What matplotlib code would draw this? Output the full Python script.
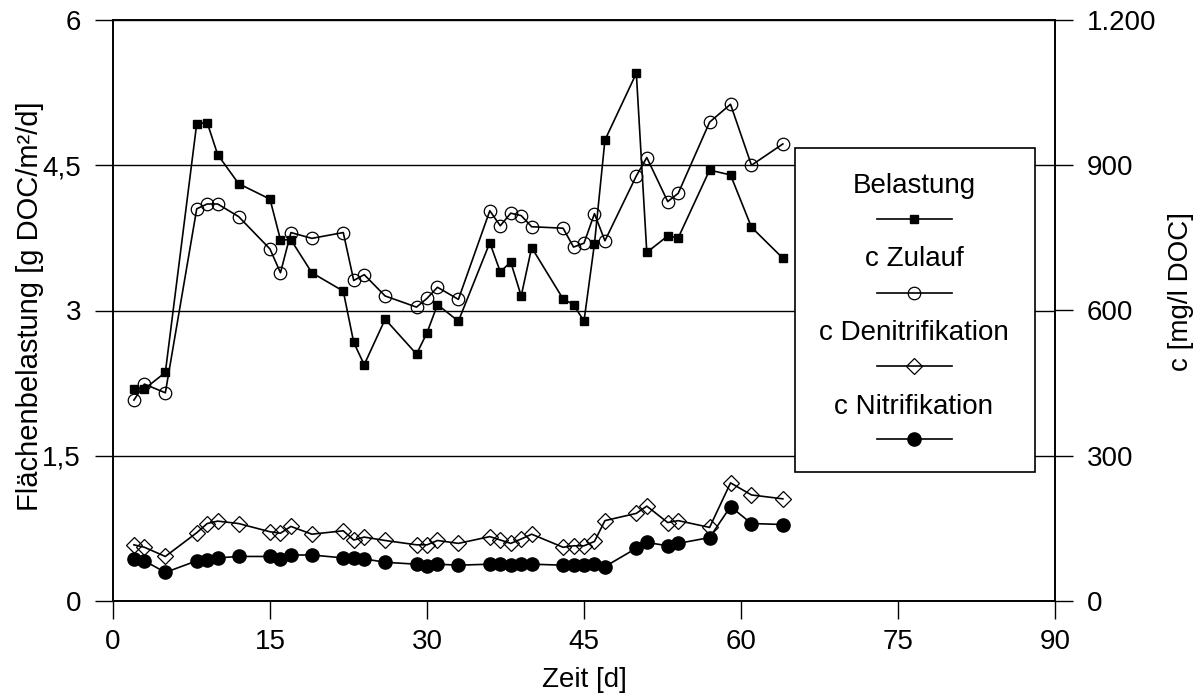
import matplotlib
matplotlib.use("Agg")
import matplotlib.pyplot as plt
from matplotlib.lines import Line2D
from matplotlib.patches import Rectangle
from matplotlib.ticker import FixedLocator, FuncFormatter

plt.rcParams['font.family'] = ['Liberation Sans', 'DejaVu Sans']
plt.rcParams['font.size'] = 20

# =========================
# Messwerte
# =========================
zeit = [2, 3, 5, 8, 9, 10, 12, 15, 16, 17, 19, 22, 23, 24, 26, 29, 30, 31, 33,
        36, 37, 38, 39, 40, 43, 44, 45, 46, 47, 50, 51, 53, 54, 57, 59, 61, 64]

# Flaechenbelastung [g DOC/m2/d]
belastung = [2.19, 2.19, 2.36, 4.93, 4.94, 4.61, 4.31, 4.15, 3.73, 3.73, 3.39,
             3.20, 2.67, 2.44, 2.91, 2.55, 2.77, 3.06, 2.89, 3.70, 3.40, 3.50,
             3.15, 3.65, 3.12, 3.06, 2.89, 3.69, 4.76, 5.45, 3.60, 3.77, 3.75,
             4.45, 4.40, 3.86, 3.54]

# Konzentrationen [mg/l DOC]
c_zulauf = [415, 448, 430, 810, 820, 820, 794, 727, 678, 761, 749, 761, 662,
            674, 630, 607, 625, 648, 623, 806, 775, 801, 796, 773, 770, 731,
            739, 800, 744, 878, 916, 825, 842, 989, 1026, 900, 944]
c_deni = [116, 111, 92, 141, 160, 165, 160, 143, 140, 154, 138, 145, 126, 132,
          125, 116, 116, 125, 119, 133, 126, 119, 128, 138, 111, 114, 114, 123,
          166, 181, 196, 162, 166, 152, 244, 219, 211]
c_nitri = [87, 83, 59, 83, 85, 89, 92, 92, 86, 95, 95, 89, 89, 87, 80, 76, 72,
           76, 74, 76, 76, 74, 76, 76, 74, 74, 74, 76, 71, 109, 121, 114, 119,
           131, 195, 160, 158]

legend_labels = ["Belastung", "c Zulauf", "c Denitrifikation", "c Nitrifikation"]
x_ticks = [0, 15, 30, 45, 60, 75, 90]
y_ticks = [0, 1.5, 3, 4.5, 6]
y2_ticks = [0, 300, 600, 900, 1200]

# =========================
# Plot
# =========================
fig = plt.figure(figsize=(11.97, 6.97), dpi=100)
ax = fig.add_axes([113 / 1197, 96 / 697, 942 / 1197, 581 / 697])
ax2 = ax.twinx()

lw = 1.2
styles = [
    dict(marker='s', markersize=5.5, markerfacecolor='black', markeredgecolor='black'),
    dict(marker='o', markersize=9, markerfacecolor='none', markeredgecolor='black', markeredgewidth=0.9),
    dict(marker='D', markersize=8, markerfacecolor='none', markeredgecolor='black', markeredgewidth=0.9),
    dict(marker='o', markersize=9.5, markerfacecolor='black', markeredgecolor='black'),
]

ax.plot(zeit, belastung, color='black', linewidth=lw, **styles[0])
ax2.plot(zeit, c_zulauf, color='black', linewidth=lw, **styles[1])
ax2.plot(zeit, c_deni, color='black', linewidth=lw, **styles[2])
ax2.plot(zeit, c_nitri, color='black', linewidth=lw, **styles[3])

ax.set_xlim(0, 90)
ax.set_ylim(0, 6)
ax2.set_ylim(0, 1200)

ax.xaxis.set_major_locator(FixedLocator(x_ticks))
ax.yaxis.set_major_locator(FixedLocator(y_ticks))
ax2.yaxis.set_major_locator(FixedLocator(y2_ticks))
ax.yaxis.set_major_formatter(FuncFormatter(lambda v, p: f"{v:g}".replace('.', ',')))
ax2.yaxis.set_major_formatter(FuncFormatter(lambda v, p: f"{int(v):,}".replace(',', '.')))

ax.grid(axis='y', color='black', linewidth=1.0)
ax.set_axisbelow(True)

for a in (ax, ax2):
    for s in a.spines.values():
        s.set_linewidth(lw)
    a.tick_params(direction='out', length=13, width=1.0, color='black', labelsize=20)
ax.tick_params(axis='y', pad=10)
ax2.tick_params(axis='y', pad=10)
ax.tick_params(axis='x', pad=7)

ax.set_xlabel("Zeit [d]", fontsize=20)
ax.set_ylabel("Flächenbelastung [g DOC/m²/d]", fontsize=21)
ax2.set_ylabel("c [mg/l DOC]", fontsize=20, rotation=90)
for lbl in (ax.xaxis.label, ax.yaxis.label, ax2.yaxis.label):
    lbl.set_horizontalalignment('center')
    lbl.set_verticalalignment('center')
    lbl.set_rotation_mode('default')
ax.xaxis.set_label_coords(0.5, (601 - 680) / 581)
ax.yaxis.set_label_coords((30 - 113) / 942, (601 - 306) / 581)
ax2.yaxis.set_label_coords((1181 - 113) / 942, (601 - 292) / 581)

# Legende: Text ueber dem Symbol, im weissen Kasten
fx = lambda px: (px - 113) / 942
fy = lambda py: (601 - py) / 581
box = Rectangle((fx(795), fy(472)), fx(1035) - fx(795), fy(148) - fy(472),
                transform=ax2.transAxes, facecolor='white', edgecolor='black',
                linewidth=lw, zorder=10)
ax2.add_patch(box)
text_y = [186, 259, 333, 407]
line_y = [219, 293, 366, 439]
for lab, ty, ly, st in zip(legend_labels, text_y, line_y, styles):
    ax2.text(fx(914), fy(ty), lab, transform=ax2.transAxes, ha='center', va='center',
             fontsize=20, zorder=11)
    ax2.add_line(Line2D([fx(877), fx(952)], [fy(ly), fy(ly)], transform=ax2.transAxes,
                        color='black', linewidth=lw, zorder=11, clip_on=False,
                        markevery=[], **st))
    ax2.add_line(Line2D([fx(914)], [fy(ly)], transform=ax2.transAxes, linestyle='none',
                        zorder=12, clip_on=False, **st))

fig.savefig("out.png", dpi=100)
